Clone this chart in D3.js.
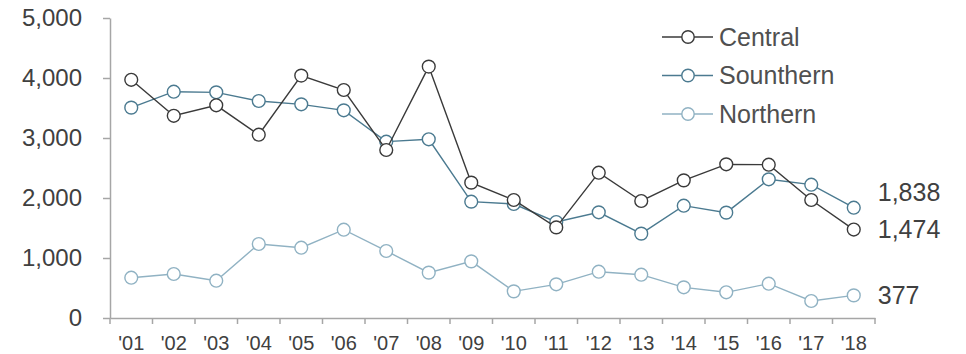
<!DOCTYPE html>
<html>
<head>
<meta charset="utf-8">
<script src="https://cdn.jsdelivr.net/npm/d3@7"></script>
<style>
  html, body { margin: 0; padding: 0; background: #fff; }
  svg { display: block; font-family: "Liberation Sans", Arial, sans-serif; }
</style>
</head>
<body>
<svg id="chart" width="966" height="354"></svg>
<script>
// Years shown on the category axis
const years = ["'01","'02","'03","'04","'05","'06","'07","'08","'09","'10","'11","'12","'13","'14","'15","'16","'17","'18"];

// Values by region
const central   = [3970, 3370, 3545, 3055, 4040, 3800, 2800, 4190, 2256, 1967, 1510, 2422, 1950, 2294, 2561, 2555, 1967, 1474];
const southern  = [3506, 3772, 3761, 3617, 3561, 3461, 2939, 2978, 1939, 1900, 1600, 1761, 1406, 1872, 1756, 2311, 2222, 1838];
const northern  = [672, 733, 622, 1233, 1172, 1472, 1117, 756, 944, 444, 561, 772, 722, 511, 428, 572, 283, 377];

const seriesNames = ["Central", "Sounthern", "Northern"];
const seriesColors = ["#3a3a3a", "#4b7a90", "#90b2c3"];
const yTicks = [0, 1000, 2000, 3000, 4000, 5000];

const series = [central, southern, northern].map((values, i) => ({
  name: seriesNames[i], color: seriesColors[i], values
}));

const svg = d3.select("#chart");
const margin = { top: 18, left: 110 };
const plotW = 765, plotH = 300;

const x = d3.scaleBand().domain(years).range([margin.left, margin.left + plotW]).padding(0);
const y = d3.scaleLinear().domain([0, 5000]).range([margin.top + plotH, margin.top]);
const cx = d => x(d) + x.bandwidth() / 2;

const axisColor = "#a6a6a6";
const textColor = "#404040";

// Y axis
const yAxis = svg.append("g")
  .attr("transform", `translate(${margin.left},0)`)
  .call(d3.axisLeft(y).tickValues(yTicks).tickSize(7).tickPadding(21).tickSizeOuter(0)
    .tickFormat(d3.format(",")));
yAxis.select(".domain").attr("stroke", axisColor).attr("stroke-width", 1.5);
yAxis.selectAll(".tick line").attr("stroke", axisColor).attr("stroke-width", 1.5);
yAxis.selectAll("text").attr("fill", textColor).style("font-size", "24px");

// X axis: labels at band centres, ticks on band boundaries
const xAxis = svg.append("g")
  .attr("transform", `translate(0,${margin.top + plotH})`)
  .call(d3.axisBottom(x).tickSize(0).tickPadding(18).tickSizeOuter(0));
xAxis.select(".domain").attr("stroke", axisColor).attr("stroke-width", 1.5);
xAxis.selectAll("text").attr("fill", textColor).style("font-size", "20px");
xAxis.selectAll(".boundary")
  .data(d3.range(years.length + 1))
  .join("line")
  .attr("class", "boundary")
  .attr("x1", i => margin.left + i * x.step())
  .attr("x2", i => margin.left + i * x.step())
  .attr("y1", 0).attr("y2", 6)
  .attr("stroke", axisColor).attr("stroke-width", 1.5);

// Lines and markers
const line = d3.line().x((v, i) => cx(years[i])).y(v => y(v));
const g = svg.append("g");
[...series].reverse().forEach(s => {
  g.append("path")
    .attr("d", line(s.values))
    .attr("fill", "none")
    .attr("stroke", s.color)
    .attr("stroke-width", 1.4);
  g.selectAll(null)
    .data(s.values)
    .join("circle")
    .attr("cx", (v, i) => cx(years[i]))
    .attr("cy", v => y(v))
    .attr("r", 6.4)
    .attr("fill", "#fff")
    .attr("stroke", s.color)
    .attr("stroke-width", 1.4);
});

// End-of-line value labels, nudged apart when they crowd each other
const last = years.length - 1;
const endLabels = series.map(s => ({ v: s.values[last], py: y(s.values[last]) }))
  .sort((a, b) => a.py - b.py);
const minGap = 37;
for (let i = endLabels.length - 2; i >= 0; i--) {
  const below = endLabels[i + 1];
  const lab = endLabels[i];
  lab.ly = lab.ly ?? lab.py;
  below.ly = below.ly ?? below.py;
  if (below.ly - lab.ly < minGap) lab.ly = below.ly - minGap;
}
svg.append("g").selectAll("text")
  .data(endLabels)
  .join("text")
  .attr("x", cx(years[last]) + 24)
  .attr("y", d => d.ly ?? d.py)
  .attr("dy", "0.35em")
  .attr("fill", textColor)
  .style("font-size", "25px")
  .text(d => d3.format(",")(d.v));

// Legend
const legend = svg.append("g").attr("transform", "translate(662,37)");
const item = legend.selectAll("g")
  .data(series)
  .join("g")
  .attr("transform", (d, i) => `translate(0,${i * 38.5})`);
item.append("line")
  .attr("x1", 0).attr("x2", 51).attr("y1", 0).attr("y2", 0)
  .attr("stroke", d => d.color).attr("stroke-width", 1.4);
item.append("circle")
  .attr("cx", 26).attr("cy", 0).attr("r", 6.2)
  .attr("fill", "#fff").attr("stroke", d => d.color).attr("stroke-width", 1.4);
item.append("text")
  .attr("x", 57).attr("y", 0).attr("dy", "0.35em")
  .attr("fill", "#505050")
  .style("font-size", "25px")
  .text(d => d.name);
</script>
</body>
</html>
